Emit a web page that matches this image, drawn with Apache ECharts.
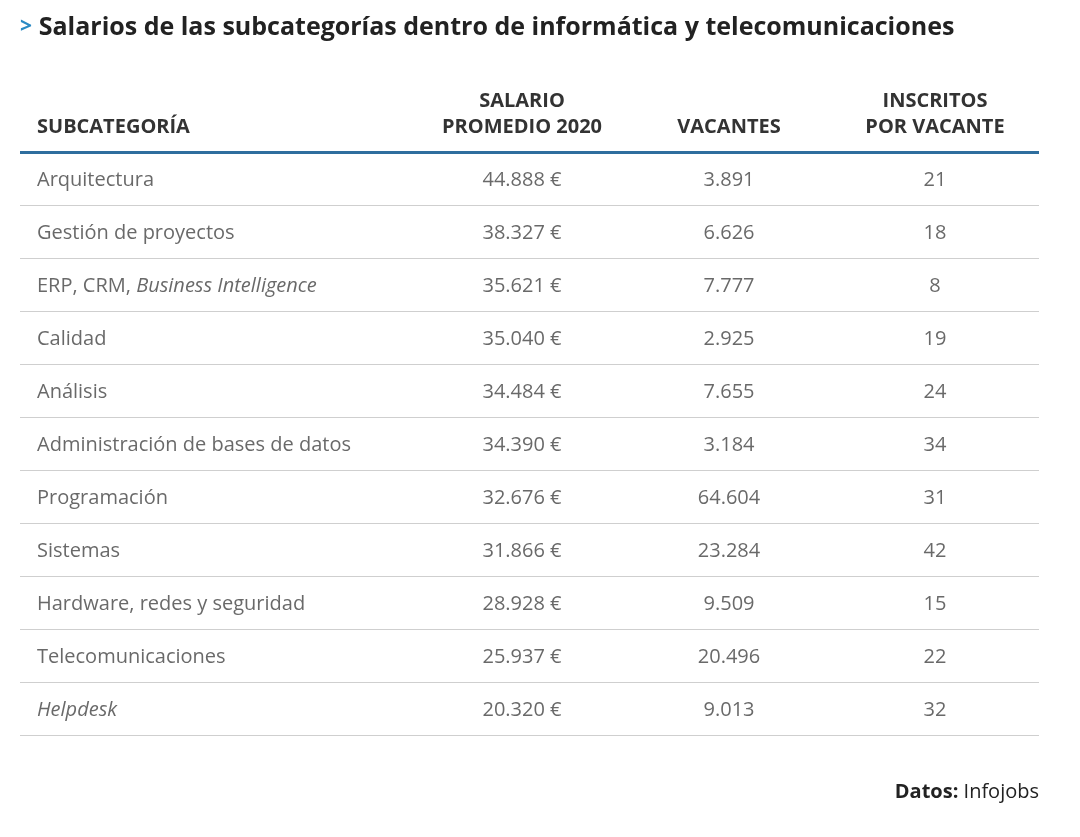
<!DOCTYPE html>
<html><head><meta charset="utf-8">
<script src="https://cdn.jsdelivr.net/npm/echarts@6/dist/echarts.min.js"></script>
<style>html,body{margin:0;background:#fff}#c{width:1080px;height:837px}</style>
</head><body><div id="c"></div>
<script>
const subcategories = ['Arquitectura','Gestión de proyectos','ERP, CRM, |Business Intelligence','Calidad','Análisis','Administración de bases de datos','Programación','Sistemas','Hardware, redes y seguridad','Telecomunicaciones','|Helpdesk'];
const salaries = [44888,38327,35621,35040,34484,34390,32676,31866,28928,25937,20320];
const vacancies = [3891,6626,7777,2925,7655,3184,64604,23284,9509,20496,9013];
const applicantsPerVacancy = [21,18,8,19,24,34,31,42,15,22,32];
const headers = ['SUBCATEGORÍA','SALARIO\nPROMEDIO 2020','VACANTES','INSCRITOS\nPOR VACANTE'];

const colX = [37, 522, 729, 935];
const FONT = '"Open Sans"';
const fmt = n => String(n).replace(/\B(?=(\d{3})+(?!\d))/g, '.');
const rows = subcategories.map((_, i) => i);

function textSeries(col, values, align, formatter) {
  return {
    type: 'scatter', symbolSize: 0, silent: true,
    data: values.map((v, i) => ({ value: [colX[col], i], label: { formatter: formatter(v) } })),
    label: { show: true, position: 'inside', align: align, verticalAlign: 'middle', offset: [0, 2],
      color: '#444', fontSize: 20, fontFamily: FONT,
      rich: { it: { fontStyle: 'italic', color: '#444', fontSize: 20, fontFamily: FONT } } }
  };
}

const chart = echarts.init(document.getElementById('c'));
chart.setOption({
  backgroundColor: '#fff',
  animation: false,
  grid: { left: 0, right: 0, top: 152, bottom: 837 - 735 },
  xAxis: { type: 'value', min: 0, max: 1080, show: false },
  yAxis: { type: 'category', data: rows, inverse: true, boundaryGap: true,
    axisLine: { show: false }, axisTick: { show: false }, axisLabel: { show: false },
    splitLine: { show: true, lineStyle: { color: '#cfcfcf', width: 1 } } },
  graphic: [
    { type: 'rect', shape: { x: 0, y: 0, width: 20, height: 837 }, style: { fill: '#fff' }, z: 50 },
    { type: 'rect', shape: { x: 1039, y: 0, width: 41, height: 837 }, style: { fill: '#fff' }, z: 50 },
    { type: 'rect', shape: { x: 20, y: 151, width: 1019, height: 3 }, style: { fill: '#2e6e9e' }, z: 60 },
    { type: 'text', left: 20, top: 15, z: 60, style: { text: '{a|>}  {b|Salarios de las subcategorías dentro de informática y telecomunicaciones}',
      rich: { a: { fill: '#2a8ac4', fontSize: 21, fontFamily: FONT, fontWeight: 'bold' },
              b: { fill: '#222', fontSize: 25, fontFamily: FONT, fontWeight: 'bold' } } } },
    ...headers.map((h, i) => ({ type: 'text', z: 60,
      x: colX[i], y: 140,
      style: { text: h, fill: '#333', fontSize: 20, fontWeight: 'bold', fontFamily: FONT,
        align: i === 0 ? 'left' : 'center', verticalAlign: 'bottom', lineHeight: 26 } })),
    { type: 'text', right: 41, top: 782, z: 60, style: { text: '{b|Datos:} Infojobs', fill: '#222', fontSize: 20, fontFamily: FONT,
      rich: { b: { fontWeight: 'bold', fill: '#222', fontSize: 20, fontFamily: FONT } } } }
  ],
  series: [
    textSeries(0, subcategories, 'left', s => s.split('|').map((p, k) => k === 1 ? '{it|' + p + '}' : p).join('')),
    textSeries(1, salaries, 'center', v => fmt(v) + ' €'),
    textSeries(2, vacancies, 'center', v => fmt(v)),
    textSeries(3, applicantsPerVacancy, 'center', v => String(v))
  ]
});
</script></body></html>
